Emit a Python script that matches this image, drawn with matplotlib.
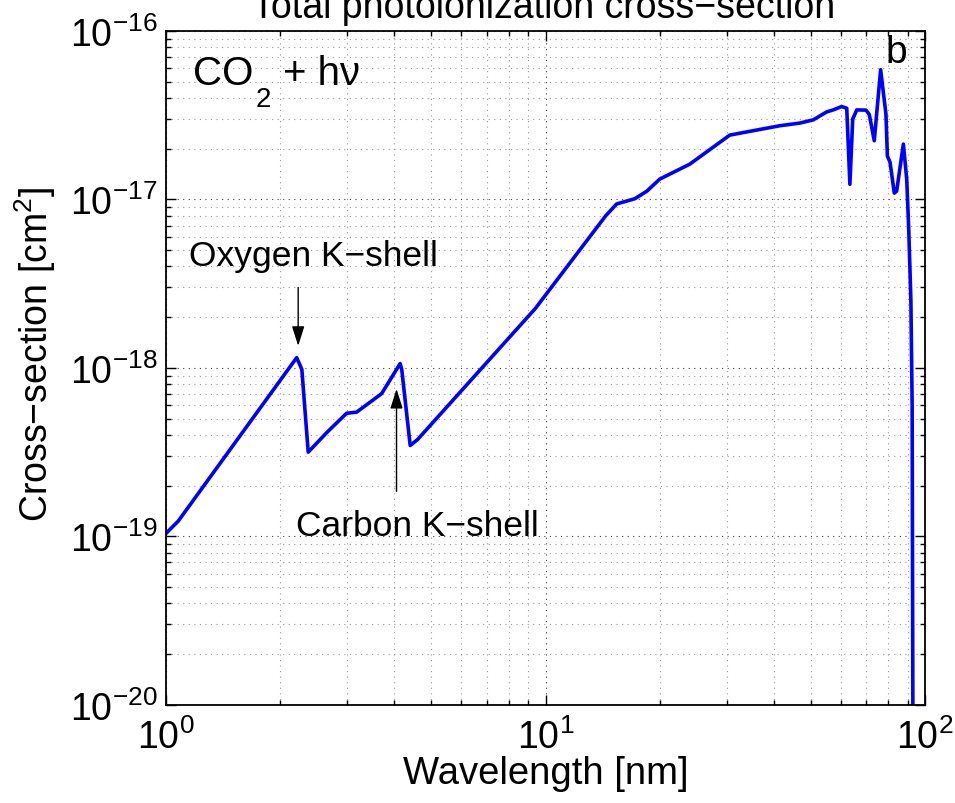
import matplotlib
matplotlib.use("Agg")
import matplotlib.pyplot as plt
import numpy as np

plt.rcParams['font.family'] = ['Liberation Sans', 'DejaVu Sans']
plt.rcParams['mathtext.fontset'] = 'custom'
plt.rcParams['mathtext.rm'] = 'Liberation Sans'
plt.rcParams['mathtext.it'] = 'Liberation Sans:italic'
plt.rcParams['mathtext.default'] = 'regular'

# CO2 total photoionization cross-section (wavelength in nm, sigma in cm^2)
wavelength = [1.00, 1.077, 2.21, 2.28, 2.37, 2.65, 2.99, 3.18, 3.70, 4.14, 4.18,
              4.40, 4.60, 9.4, 14.4, 15.4, 17.2, 18.5, 20.0, 24.0, 30.6,
              41.5, 46.8, 50.8, 55.1, 57.3, 60.3, 62.2, 63.4, 64.5, 66.1,
              69.9, 71.3, 73.5, 76.4, 78.9, 79.6, 80.9, 83.0, 84.2, 87.7,
              89.5, 90.6, 91.8, 92.5, 92.9, 93.0]
sigma = [1.04e-19, 1.23e-19, 1.15e-18, 9.8e-19, 3.16e-19, 4.12e-19, 5.37e-19,
         5.46e-19, 7.03e-19, 1.06e-18, 9.8e-19, 3.46e-19, 3.75e-19, 2.25e-18,
         7.98e-18, 9.4e-18, 1.01e-17, 1.12e-17, 1.32e-17, 1.62e-17, 2.41e-17,
         2.74e-17, 2.84e-17, 2.97e-17, 3.31e-17, 3.40e-17, 3.56e-17, 3.48e-17,
         1.23e-17, 3.00e-17, 3.40e-17, 3.39e-17, 3.20e-17, 2.23e-17, 5.89e-17,
         3.21e-17, 1.81e-17, 1.66e-17, 1.09e-17, 1.12e-17, 2.13e-17, 1.32e-17,
         6.67e-18, 2.5e-18, 6.0e-19, 1.0e-20, 1.0e-21]

# absorption edges: (x, arrow tail y, arrow tip y, label x, label y)
oxygen_edge = (2.23, 3.0e-18, 1.35e-18, 1.150, 4.07e-18)
carbon_edge = (4.05, 1.85e-19, 7.5e-19, 2.20, 1.02e-19)

fig = plt.figure(figsize=(9.55, 8.04), dpi=100)
ax = fig.add_axes([166 / 955, 1 - 705.7 / 804, 759 / 955, 673.7 / 804])

ax.loglog(wavelength, sigma, color=(0, 0, 1), lw=2.6, solid_joinstyle='round')
ax.set_xlim(1, 100)
ax.set_ylim(1e-20, 1e-16)

ax.grid(True, which='major', color='0.25', ls=(0, (1, 4)), lw=0.8)
ax.grid(True, which='minor', color='0.6', ls=(0, (1, 4)), lw=0.8)
ax.tick_params(which='both', direction='in', top=True, right=True, width=1.0)
ax.tick_params(which='major', length=7, labelsize=27)
ax.tick_params(axis='x', which='major', pad=10)
ax.tick_params(axis='y', which='major', pad=6)
ax.tick_params(which='minor', length=3.5)
for s in ax.spines.values():
    s.set_linewidth(1.3)

ax.set_xlabel('Wavelength [nm]', fontsize=27.5, labelpad=-1)
ax.set_ylabel('Cross\u2212section [cm$^2$]', fontsize=27)
ax.yaxis.set_label_coords(-0.142, 0.522)

for ex, y0, y1, tx, ty, name in [(*oxygen_edge, 'Oxygen K\u2212shell'),
                                  (*carbon_edge, 'Carbon K\u2212shell')]:
    ax.annotate('', xy=(ex, y1), xytext=(ex, y0),
                arrowprops=dict(arrowstyle='-|>,head_length=1.2,head_width=0.38',
                                color='k', lw=1.0, shrinkA=0, shrinkB=0))
    ax.text(tx, ty, name, fontsize=25.5, va='baseline', ha='left')

# reaction label, with a deep subscript like the original figure
lab = (0.036, 0.921)
ax.annotate('CO', lab, xycoords='axes fraction', fontsize=29, va='baseline')
ax.annotate('2', lab, xycoords='axes fraction', xytext=(44.6, -15.5),
            textcoords='offset points', fontsize=20, va='baseline')
ax.annotate('+ h\u03bd', lab, xycoords='axes fraction', xytext=(64.8, 0),
            textcoords='offset points', fontsize=29, va='baseline')
ax.text(0.948, 0.954, 'b', transform=ax.transAxes, fontsize=28,
        va='baseline', ha='left')

fig.text(0.569, 1 - 18 / 804, 'Total photoionization cross\u2212section',
         fontsize=27, ha='center', va='baseline')

fig.savefig('out.png', dpi=100)
